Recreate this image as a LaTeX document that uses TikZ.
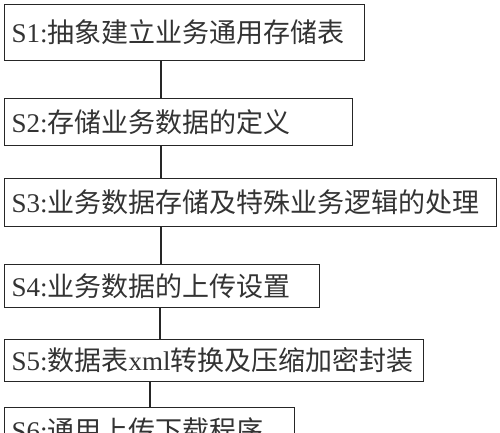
\documentclass[tikz,border=0pt]{standalone}
\usepackage{fontspec}
\setmainfont{Noto Sans CJK SC}
\newfontfamily\lat{Liberation Serif}
\begin{document}
\begin{tikzpicture}[x=1pt,y=-1pt]
\tikzset{
  stepbox/.style={draw=black!85, line width=1.2pt, anchor=north west, inner xsep=7pt, inner ysep=0pt,
    align=left, font=\fontsize{27}{30}\selectfont, text=black!80},
  link/.style={draw=black!85, line width=1.2pt}
}
\useasboundingbox (0,0) rectangle (500,433);
\clip (0,0) rectangle (500,433);
\fill[white] (0,0) rectangle (500,433);
\node[stepbox, text width=346pt, minimum height=56pt] (s1) at (4,4) {{\lat S1:}抽象建立业务通用存储表};
\node[stepbox, text width=334pt, minimum height=47pt] (s2) at (4,98) {{\lat S2:}存储业务数据的定义};
\node[stepbox, text width=478pt, minimum height=48pt] (s3) at (4,178) {{\lat S3:}业务数据存储及特殊业务逻辑的处理};
\node[stepbox, text width=301pt, minimum height=43pt] (s4) at (4,264) {{\lat S4:}业务数据的上传设置};
\node[stepbox, text width=405pt, minimum height=42pt] (s5) at (4,339) {{\lat S5:}数据表{\lat xml}转换及压缩加密封装};
\node[stepbox, text width=276pt, minimum height=45pt] (s6) at (4,407) {{\lat S6:}通用上传下载程序};
\draw[link] ([xshift=157pt]s1.south west) -- ([xshift=157pt]s2.north west);
\draw[link] ([xshift=157pt]s2.south west) -- ([xshift=157pt]s3.north west);
\draw[link] ([xshift=157pt]s3.south west) -- ([xshift=157pt]s4.north west);
\draw[link] ([xshift=156pt]s4.south west) -- ([xshift=156pt]s5.north west);
\draw[link] ([xshift=146pt]s5.south west) -- ([xshift=146pt]s6.north west);
\end{tikzpicture}
\end{document}
